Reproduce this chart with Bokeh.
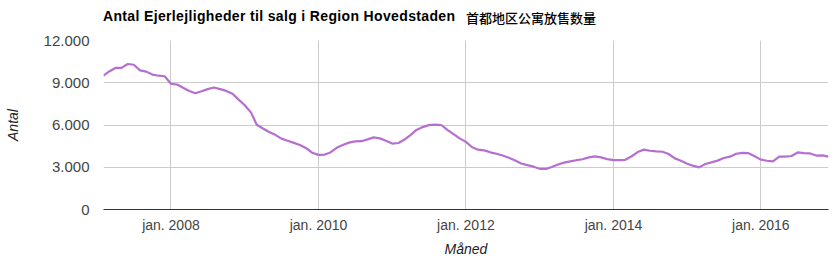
import pandas as pd
from bokeh.plotting import figure
from bokeh.layouts import column
from bokeh.models import FixedTicker, CustomJSTickFormatter, ColumnDataSource, Range1d, Div
from bokeh.embed import file_html
from bokeh.resources import INLINE

title_da = "Antal Ejerlejligheder til salg i Region Hovedstaden"
title_zh = "首都地区公寓放售数量"
x_label = "Måned"
y_label = "Antal"

start_month = "2007-02-01"
values = [
    9500, 9800, 10050, 10060, 10330, 10280, 9880, 9790, 9580, 9500, 9460,
    8930, 8870, 8650, 8420, 8250, 8400, 8550, 8660, 8550, 8420, 8220, 7800,
    7400, 6880, 6020, 5750, 5500, 5300, 5030, 4880, 4730, 4580, 4350, 4030,
    3880, 3900, 4050, 4380, 4580, 4750, 4840, 4850, 4980, 5120, 5050, 4880,
    4680, 4720, 4950, 5280, 5650, 5850, 5990, 6020, 6000, 5650, 5350, 5050,
    4800, 4420, 4250, 4200, 4060, 3960, 3830, 3680, 3480, 3270, 3150, 3040,
    2890, 2880, 3020, 3200, 3330, 3420, 3500, 3570, 3700, 3770, 3700, 3580,
    3510, 3500, 3530, 3780, 4080, 4250, 4170, 4130, 4100, 3940, 3630, 3460,
    3250, 3100, 2990, 3230, 3350, 3470, 3660, 3750, 3960, 4020, 4000, 3780,
    3540, 3460, 3420, 3750, 3760, 3800, 4050, 4000, 3980, 3830, 3840, 3760,
]
x_tick_years = [2008, 2010, 2012, 2014, 2016]
y_ticks = [0, 3000, 6000, 9000, 12000]
y_tick_labels = ["0", "3.000", "6.000", "9.000", "12.000"]

dates = pd.date_range(start_month, periods=len(values), freq="MS")
src = ColumnDataSource(dict(x=dates, y=values))

head = Div(
    text=(
        '<div style="position:relative;width:838px;height:30px;">'
        '<span style="position:absolute;left:103px;top:8px;line-height:16px;'
        'font-family:\'Liberation Sans\',Arial,sans-serif;font-size:14px;font-weight:bold;'
        'letter-spacing:0.35px;color:#000;white-space:nowrap;">'
        + title_da + '</span>'
        '<span style="position:absolute;left:466px;top:9px;line-height:18px;'
        'font-family:\'Noto Sans CJK SC\',sans-serif;font-size:13px;font-weight:500;color:#000;white-space:nowrap;">'
        + title_zh + '</span></div>'
    ),
    width=838, height=30, margin=0,
)

p = figure(width=838, height=229, x_axis_type="datetime",
           output_backend="svg", toolbar_location=None,
           min_border_left=103, min_border_right=10,
           min_border_top=10, min_border_bottom=50, margin=0)
p.x_range = Range1d(dates[0], dates[-1])
p.y_range = Range1d(y_ticks[0], y_ticks[-1])
p.outline_line_color = None
p.background_fill_color = "white"
p.border_fill_color = "white"

p.line("x", "y", source=src, line_color="#b56fd1", line_width=2.2)

xt = [pd.Timestamp(f"{yr}-01-01").value / 1e6 for yr in x_tick_years]
p.xaxis.ticker = FixedTicker(ticks=xt, minor_ticks=[])
p.xaxis.formatter = CustomJSTickFormatter(code="return 'jan. ' + new Date(tick).getUTCFullYear();")
p.yaxis.ticker = FixedTicker(ticks=y_ticks, minor_ticks=[])
p.yaxis.major_label_overrides = {t: l for t, l in zip(y_ticks, y_tick_labels)}

for ax in (p.xaxis[0], p.yaxis[0]):
    ax.major_tick_line_color = None
    ax.minor_tick_line_color = None
    ax.major_tick_out = 0
    ax.major_tick_in = 0
    ax.minor_tick_out = 0
    ax.major_label_text_font = "Liberation Sans"
    ax.major_label_text_font_size = "14px"
    ax.major_label_text_color = "#444444"
    ax.axis_label_text_font = "Liberation Sans"
    ax.axis_label_text_font_size = "14px"
    ax.axis_label_text_font_style = "italic"
    ax.axis_label_text_color = "#222222"

p.yaxis.major_label_text_font_size = "15px"
p.yaxis.axis_line_color = None
p.yaxis.major_label_standoff = 14
p.yaxis.axis_label = y_label
p.yaxis.axis_label_standoff = 20
p.xaxis.axis_line_color = "#333333"
p.xaxis.axis_line_width = 1
p.xaxis.major_label_standoff = 7
p.xaxis.axis_label = x_label
p.xaxis.axis_label_standoff = 5

p.xgrid.grid_line_color = "#cccccc"
p.ygrid.grid_line_color = "#cccccc"

layout = column(head, p, spacing=0, margin=0)
open("out.html", "w").write(file_html(layout, INLINE))
